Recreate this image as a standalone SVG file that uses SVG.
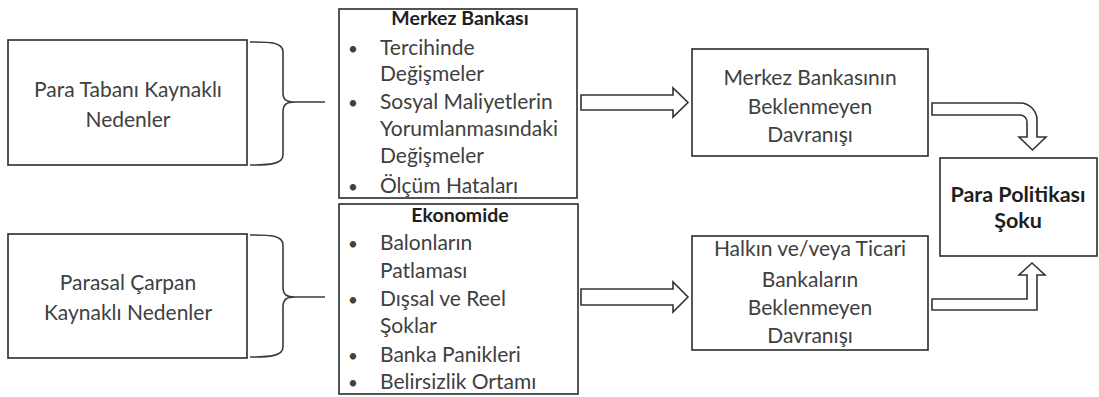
<svg xmlns="http://www.w3.org/2000/svg" width="1099" height="397" viewBox="0 0 1099 397">
<style>
.box{fill:#fff;stroke:#2b2b2b;stroke-width:1.6}
.br{fill:none;stroke:#3a3a3a;stroke-width:1.6}
.arr{fill:#fff;stroke:#333;stroke-width:1.6;stroke-linejoin:miter}
text{font-family:Lato,"Open Sans","Liberation Sans",sans-serif;font-size:21px;fill:#404040}
.c{text-anchor:middle}
.b{font-weight:bold;fill:#1e1e1e;font-size:19.5px}
.bb{font-weight:bold;fill:#1e1e1e;font-size:21.5px}
.dot{font-size:17px}
</style>
<rect width="1099" height="397" fill="#fff"/>
<g id="left1">
<rect class="box" x="8" y="40" width="239" height="125"/>
<text class="c" x="128" y="97">Para Tabanı Kaynaklı</text>
<text class="c" x="128" y="127">Nedenler</text>
</g>
<g id="left2">
<rect class="box" x="8" y="234" width="239" height="124"/>
<text class="c" x="128" y="290">Parasal Çarpan</text>
<text class="c" x="128" y="320">Kaynaklı Nedenler</text>
</g>
<g id="mid1">
<rect class="box" x="339" y="9" width="238" height="189"/>
<text class="c b" x="460" y="25">Merkez Bankası</text>
<text x="353" y="55" class="c dot">•</text><text x="380" y="55">Tercihinde</text>
<text x="380" y="81">Değişmeler</text>
<text x="353" y="109" class="c dot">•</text><text x="380" y="109">Sosyal Maliyetlerin</text>
<text x="380" y="136">Yorumlanmasındaki</text>
<text x="380" y="163">Değişmeler</text>
<text x="353" y="193" class="c dot">•</text><text x="380" y="193">Ölçüm Hataları</text>
</g>
<g id="mid2">
<rect class="box" x="339" y="204" width="239" height="190"/>
<text class="c b" x="460" y="222">Ekonomide</text>
<text x="353" y="250" class="c dot">•</text><text x="380" y="250">Balonların</text>
<text x="380" y="278">Patlaması</text>
<text x="353" y="306" class="c dot">•</text><text x="380" y="306">Dışsal ve Reel</text>
<text x="380" y="333">Şoklar</text>
<text x="353" y="362" class="c dot">•</text><text x="380" y="362">Banka Panikleri</text>
<text x="353" y="389" class="c dot">•</text><text x="380" y="389">Belirsizlik Ortamı</text>
</g>
<g id="right1">
<rect class="box" x="692" y="49" width="236" height="107"/>
<text class="c" x="810" y="85">Merkez Bankasının</text>
<text class="c" x="810" y="114">Beklenmeyen</text>
<text class="c" x="810" y="142">Davranışı</text>
</g>
<g id="right2">
<rect class="box" x="692" y="236" width="236" height="114"/>
<text class="c" x="810" y="256">Halkın ve/veya Ticari</text>
<text class="c" x="810" y="287">Bankaların</text>
<text class="c" x="810" y="315">Beklenmeyen</text>
<text class="c" x="810" y="343">Davranışı</text>
</g>
<g id="shock">
<rect class="box" x="940" y="158" width="157" height="98"/>
<text class="c bb" x="1018" y="202">Para Politikası</text>
<text class="c bb" x="1018" y="228">Şoku</text>
</g>
<g id="connectors">
<path class="br" d="M250,42 C270,42 283,42 283,52 V93 C283,100 287,102 295,102 H325 M295,102 C287,102 283,104 283,112 V155 C283,164 270,165 250,165"/>
<path class="br" d="M250,235 C270,235 283,235 283,245 V287 C283,295 287,297 295,297 H325 M295,297 C287,297 283,299 283,307 V347 C283,356 270,357 250,357"/>
<path class="arr" d="M581,95 H673 V88 L688,102.5 L673,117 V110 H581 Z"/>
<path class="arr" d="M581,289 H673 V282 L688,297 L673,312 V305 H581 Z"/>
<path class="arr" d="M932,103 H1020 A17,17 0 0 1 1037,120 V137 H1046 L1032.5,150 L1019,137 H1027 V122 A7,7 0 0 0 1020,115 H932 Z"/>
<path class="arr" d="M932,299 H1027 V275 H1019 L1032,263 L1045,275 H1037 V310 H932 Z"/>
</g>
</svg>
